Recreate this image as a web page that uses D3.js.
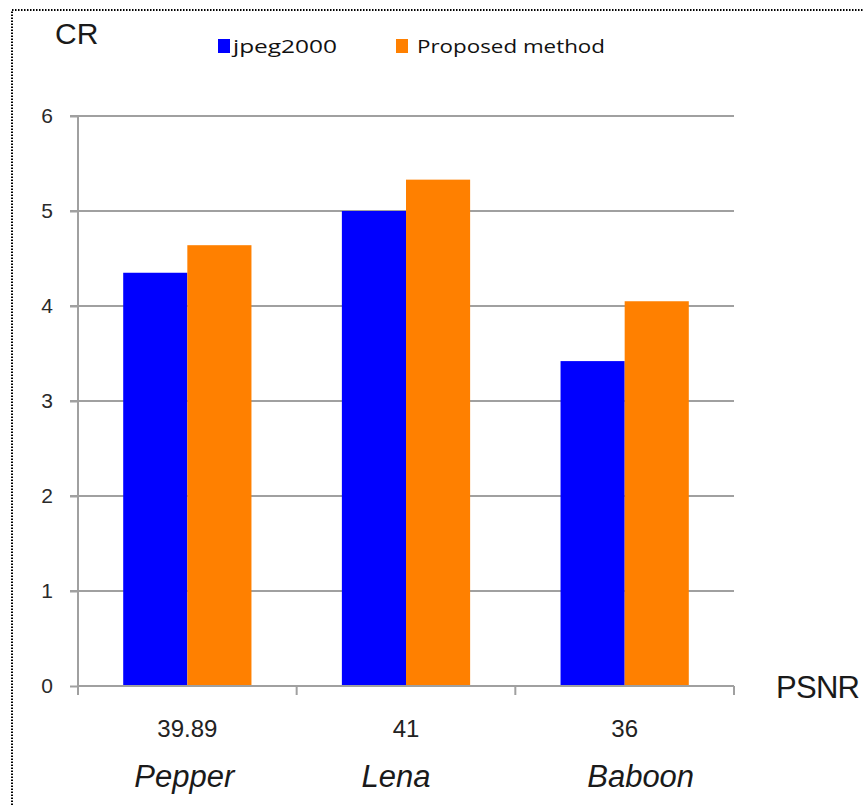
<!DOCTYPE html>
<html>
<head>
<meta charset="utf-8">
<script src="https://cdn.jsdelivr.net/npm/d3@7"></script>
<style>
  html, body { margin: 0; padding: 0; background: #fff; }
  svg { display: block; }
</style>
</head>
<body>
<script>
// Compression ratio (CR) at a given PSNR for three test images
const images = ["Pepper", "Lena", "Baboon"];
const psnr = ["39.89", "41", "36"];
const seriesNames = ["jpeg2000", "Proposed method"];
const jpeg2000 = [4.35, 5.0, 3.42];
const proposed = [4.64, 5.33, 4.05];
const yTicks = [0, 1, 2, 3, 4, 5, 6];
const colors = ["#0000ff", "#ff8000"];

const W = 864, H = 805;
const svg = d3.select("body").append("svg").attr("width", W).attr("height", H);

// dotted frame
svg.append("path")
  .attr("d", `M12,${H} V10 H${W}`)
  .attr("fill", "none").attr("stroke", "#000").attr("stroke-width", 2)
  .attr("stroke-dasharray", "1.5,1.5");

const plot = { left: 78, right: 734, top: 116, bottom: 686 };

const y = d3.scaleLinear().domain([0, 6]).range([plot.bottom, plot.top]);
const x0 = d3.scaleBand().domain(images).range([plot.left, plot.right]).paddingInner(0).paddingOuter(0);
const x1 = d3.scaleBand().domain(seriesNames).range([0, x0.bandwidth()]).paddingInner(0).paddingOuter(0.705);

const gridColor = "#a0a0a0";

// horizontal gridlines (with their short tick stubs left of the axis)
svg.append("g").selectAll("line").data(yTicks.filter(d => d > 0)).join("line")
  .attr("x1", plot.left - 8).attr("x2", plot.right)
  .attr("y1", d => y(d)).attr("y2", d => y(d))
  .attr("stroke", gridColor).attr("stroke-width", 2);

// y axis
const yAxis = svg.append("g").attr("transform", `translate(${plot.left},0)`)
  .call(d3.axisLeft(y).tickValues(yTicks).tickSize(8).tickPadding(17).tickFormat(d3.format("d")));
yAxis.select(".domain").remove();
yAxis.selectAll(".tick line").attr("stroke", gridColor).attr("stroke-width", 2);
yAxis.selectAll(".tick text")
  .attr("font-family", "'Liberation Sans', Arial, sans-serif")
  .attr("font-size", 21).attr("fill", "#2a2a2a");
svg.append("line")
  .attr("x1", plot.left).attr("x2", plot.left)
  .attr("y1", plot.top).attr("y2", plot.bottom)
  .attr("stroke", gridColor).attr("stroke-width", 2);

// bars
const rows = images.map((img, i) => ({ img, values: [jpeg2000[i], proposed[i]] }));
svg.append("g").selectAll("g").data(rows).join("g")
  .attr("transform", d => `translate(${x0(d.img)},0)`)
  .selectAll("rect").data(d => d.values.map((v, k) => ({ s: seriesNames[k], v, k })))
  .join("rect")
  .attr("x", d => x1(d.s)).attr("width", x1.bandwidth())
  .attr("y", d => y(d.v)).attr("height", d => y(0) - y(d.v))
  .attr("fill", d => colors[d.k]);

// x axis line and category boundary ticks
svg.append("line")
  .attr("x1", plot.left).attr("x2", plot.right)
  .attr("y1", plot.bottom).attr("y2", plot.bottom)
  .attr("stroke", gridColor).attr("stroke-width", 2);
const bounds = images.map(d => x0(d)).concat([x0(images[images.length - 1]) + x0.bandwidth()]);
svg.append("g").selectAll("line").data(bounds).join("line")
  .attr("x1", d => d).attr("x2", d => d)
  .attr("y1", plot.bottom).attr("y2", plot.bottom + 9)
  .attr("stroke", gridColor).attr("stroke-width", 2);

// PSNR values under each group
svg.append("g").selectAll("text").data(images).join("text")
  .attr("x", d => x0(d) + x0.bandwidth() / 2).attr("y", 737)
  .attr("text-anchor", "middle")
  .attr("font-family", "'Liberation Sans', Arial, sans-serif")
  .attr("font-size", 24).attr("fill", "#222")
  .text((d, i) => psnr[i]);

// image names, set slightly off-centre below the PSNR values
const nameShift = [-3, -10, 16];
svg.append("g").selectAll("text").data(images).join("text")
  .attr("x", (d, i) => x0(d) + x0.bandwidth() / 2 + nameShift[i]).attr("y", 787)
  .attr("text-anchor", "middle")
  .attr("font-family", "'Liberation Sans', Arial, sans-serif")
  .attr("font-style", "italic")
  .attr("font-size", 31).attr("fill", "#1a1a1a")
  .text(d => d);

// axis titles
svg.append("text").attr("x", 55).attr("y", 44)
  .attr("font-family", "'Liberation Sans', Arial, sans-serif")
  .attr("font-size", 30).attr("fill", "#1a1a1a").text("CR");
svg.append("text").attr("x", 776).attr("y", 698)
  .attr("font-family", "'Liberation Sans', Arial, sans-serif")
  .attr("font-size", 31).attr("textLength", 84).attr("fill", "#1a1a1a").text("PSNR");

// legend
const legend = [
  { name: seriesNames[0], color: colors[0], sx: 218, tx: 233, len: 104 },
  { name: seriesNames[1], color: colors[1], sx: 396, tx: 417, len: 188 }
];
const lg = svg.append("g");
lg.selectAll("rect").data(legend).join("rect")
  .attr("x", d => d.sx).attr("y", 39).attr("width", 12).attr("height", 14)
  .attr("fill", d => d.color);
lg.selectAll("text").data(legend).join("text")
  .attr("x", d => d.tx).attr("y", 53)
  .attr("font-family", "'Open Sans', 'Noto Sans', sans-serif")
  .attr("font-size", 19).attr("fill", "#111")
  .attr("textLength", d => d.len).attr("lengthAdjust", "spacingAndGlyphs")
  .text(d => d.name);
</script>
</body>
</html>
